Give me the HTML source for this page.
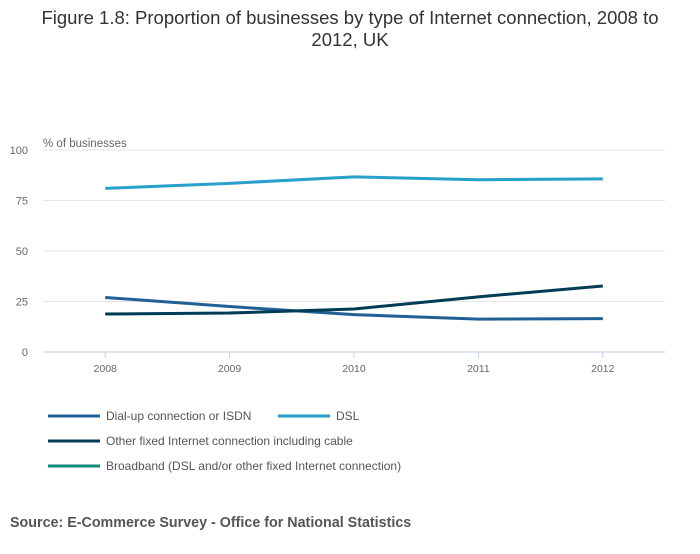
<!DOCTYPE html>
<html><head><meta charset="utf-8"><style>
body{margin:0;background:#fff;width:700px;height:549px;overflow:hidden;font-family:"Liberation Sans",sans-serif;}
svg text{font-family:"Liberation Sans",sans-serif;}
</style></head><body>
<svg id="chart" width="700" height="549" xmlns="http://www.w3.org/2000/svg">
<text x="350" y="24" text-anchor="middle" font-size="18.5" fill="#333">Figure 1.8: Proportion of businesses by type of Internet connection, 2008 to</text>
<text x="350" y="46" text-anchor="middle" font-size="18.5" fill="#333">2012, UK</text>
<text x="43" y="147" font-size="11.5" fill="#666">% of businesses</text>
<g id="grid"></g><g id="series"></g>
<g font-size="12" fill="#555">
<line x1="48" y1="416" x2="100" y2="416" stroke="#206095" stroke-width="3"/><text x="106" y="420">Dial-up connection or ISDN</text>
<line x1="278" y1="416" x2="330" y2="416" stroke="#27a0cc" stroke-width="3"/><text x="336" y="420">DSL</text>
<line x1="48" y1="441" x2="100" y2="441" stroke="#003c57" stroke-width="3"/><text x="106" y="445">Other fixed Internet connection including cable</text>
<line x1="48" y1="466" x2="100" y2="466" stroke="#118c7b" stroke-width="3"/><text x="106" y="470">Broadband (DSL and/or other fixed Internet connection)</text>
</g>
<text x="10" y="527" font-size="14.3" font-weight="bold" fill="#555">Source: E-Commerce Survey - Office for National Statistics</text>
</svg>
<script>
const categories=["2008","2009","2010","2011","2012"];
const yTicks=[0,25,50,75,100];
const dialup=[27,22.5,18.5,16.3,16.5];
const dsl=[81,83.5,86.7,85.3,85.7];
const other=[18.8,19.3,21.3,27.3,32.7];
const NS="http://www.w3.org/2000/svg";
const x0=43,x1=665,yTop=150,yBot=352;
const bw=(x1-x0)/categories.length;
const xs=i=>x0+bw*(i+0.5);
const ys=v=>yBot-(v/100)*(yBot-yTop);
function mk(t,a,p){const e=document.createElementNS(NS,t);for(const k in a)e.setAttribute(k,a[k]);p.appendChild(e);return e;}
const g=document.getElementById('grid'),s=document.getElementById('series');
yTicks.forEach(v=>{
 const l=mk('line',{x1:x0,x2:x1,y1:ys(v),y2:ys(v),stroke:v===0?'#bfd0e6':'#e4e4e4','stroke-width':1},g);
 
 
 const t=mk('text',{x:28,y:ys(v)+4,'text-anchor':'end','font-size':11,fill:'#666'},g);t.textContent=v;
 
 
});
categories.forEach((c,i)=>{
 const l=mk('line',{x1:xs(i),x2:xs(i),y1:yBot,y2:yBot+6,stroke:'#bfd0e6'},g);
 
 
 const t=mk('text',{x:xs(i),y:yBot+20,'text-anchor':'middle','font-size':10.5,fill:'#666'},g);t.textContent=c;
 
 
});
[[dsl,'#27a0cc','line-dsl'],[dialup,'#206095','line-dialup'],[other,'#003c57','line-other']].forEach(([d,c,n])=>{
 const p=mk('polyline',{points:d.map((v,i)=>xs(i)+','+ys(v)).join(' '),fill:'none',stroke:c,'stroke-width':3,'stroke-linejoin':'round'},s);
 
 
});
</script>
</body></html>
